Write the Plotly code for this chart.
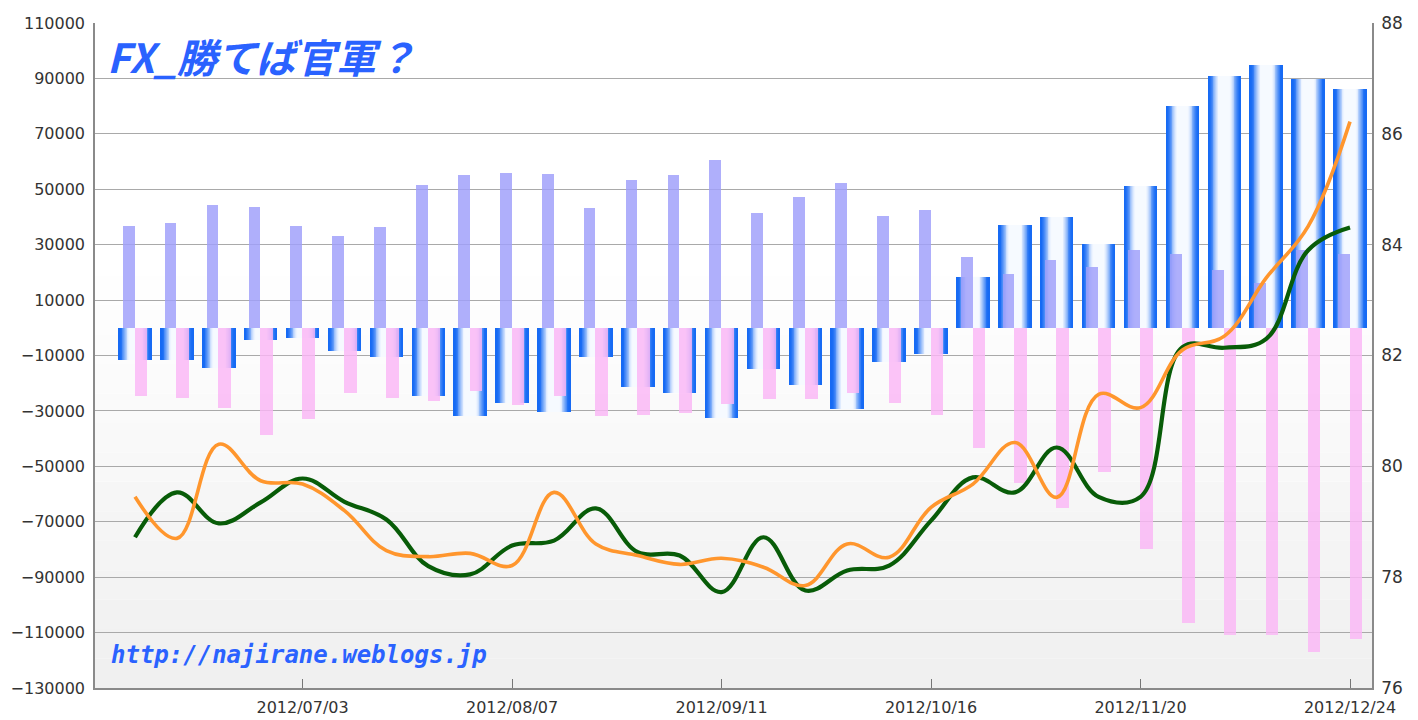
import plotly.graph_objects as go

# ---------------- data ----------------
dates = ["2012/06/05", "2012/06/12", "2012/06/19", "2012/06/26", "2012/07/03",
         "2012/07/10", "2012/07/17", "2012/07/24", "2012/07/31", "2012/08/07",
         "2012/08/14", "2012/08/21", "2012/08/28", "2012/09/04", "2012/09/11",
         "2012/09/18", "2012/09/25", "2012/10/02", "2012/10/09", "2012/10/16",
         "2012/10/23", "2012/10/30", "2012/11/06", "2012/11/13", "2012/11/20",
         "2012/11/27", "2012/12/04", "2012/12/11", "2012/12/18", "2012/12/24"]

tick_labels = ["2012/07/03", "2012/08/07", "2012/09/11", "2012/10/16",
               "2012/11/20", "2012/12/24"]

net_pos = [-11600, -11600, -14500, -4300, -3800, -8200, -10600, -24600, -32000, -27000,
           -30400, -10600, -21400, -23600, -32700, -15000, -20800, -29200, -12200, -9600,
           18200, 37100, 40000, 30300, 51300, 80000, 90700, 94900, 89800, 86200]

long_pos = [36900, 38000, 44300, 43700, 36900, 33000, 36400, 51600, 55000, 55700,
            55600, 43200, 53400, 55200, 60600, 41400, 47100, 52200, 40200, 42600,
            25600, 19500, 24600, 21800, 28000, 26800, 20700, 16100, 28200, 26800]

short_pos = [-24600, -25200, -29000, -38800, -32800, -23400, -25200, -26400, -22800, -28000,
             -24600, -31800, -31500, -30600, -27600, -25800, -25800, -23400, -27300, -31500,
             -43500, -56100, -65100, -51900, -79900, -106500, -110700, -110700, -117100, -112300]

green_line = [78.72, 79.53, 78.97, 79.35, 79.78, 79.36, 79.04, 78.20, 78.05, 78.57,
              78.66, 79.24, 78.45, 78.39, 77.73, 78.72, 77.76, 78.12, 78.21, 79.02,
              79.80, 79.53, 80.34, 79.45, 79.45, 82.15, 82.14, 82.30, 83.90, 84.31]

orange_line = [79.45, 78.70, 80.40, 79.74, 79.68, 79.20, 78.48, 78.37, 78.43, 78.21,
               79.53, 78.60, 78.39, 78.23, 78.34, 78.18, 77.85, 78.60, 78.36, 79.26,
               79.68, 80.43, 79.44, 81.30, 81.06, 82.10, 82.35, 83.40, 84.33, 86.22]

# ---------------- figure ----------------
fig = go.Figure()

# blue "cylinder" bars: overlapping centred layers, lighter toward the middle
BLUE = (22, 106, 244)
WHITE = (246, 250, 255)
full_w = 0.80
n_layers = 20


def whiteness(d):
    x = (0.37 - d) / 0.25
    x = max(0.0, min(1.0, x))
    return 3 * x * x - 2 * x * x * x


for k in range(n_layers):
    half = full_w / 2 * (1 - k / n_layers)
    inner = full_w / 2 * (1 - (k + 1) / n_layers)
    w = whiteness((half + inner) / 2)
    col = tuple(int(round(BLUE[i] + w * (WHITE[i] - BLUE[i]))) for i in range(3))
    fig.add_trace(go.Bar(
        x=dates, y=net_pos, width=2 * half, offset=-half,
        marker=dict(color="rgb(%d,%d,%d)" % col, line=dict(width=0)),
        hoverinfo="skip", showlegend=False, yaxis="y"))

fig.add_trace(go.Bar(
    x=dates, y=long_pos, width=0.28, offset=-0.29,
    marker=dict(color="rgba(160,160,250,0.84)", line=dict(width=0)),
    hoverinfo="skip", showlegend=False, yaxis="y"))

fig.add_trace(go.Bar(
    x=dates, y=short_pos, width=0.30, offset=-0.01,
    marker=dict(color="rgba(250,182,245,0.82)", line=dict(width=0)),
    hoverinfo="skip", showlegend=False, yaxis="y"))

fig.add_trace(go.Scatter(
    x=dates, y=green_line, mode="lines", yaxis="y2",
    line=dict(color="rgb(8,92,8)", width=4.2, shape="spline", smoothing=1.1),
    hoverinfo="skip", showlegend=False))

fig.add_trace(go.Scatter(
    x=dates, y=orange_line, mode="lines", yaxis="y2",
    line=dict(color="rgb(255,150,45)", width=3.6, shape="spline", smoothing=1.1),
    hoverinfo="skip", showlegend=False))

# subtle vertical background gradient (white at top, light grey at bottom)
shapes = []
n_bands = 14
for b in range(n_bands):
    y0 = 0.62 * b / n_bands
    y1 = 0.62 * (b + 1) / n_bands
    g = int(round(239 + (255 - 239) * (b + 0.5) / n_bands))
    shapes.append(dict(type="rect", xref="paper", yref="paper", x0=0, x1=1,
                       y0=y0, y1=y1, fillcolor="rgb(%d,%d,%d)" % (g, g, g),
                       line=dict(width=0), layer="below"))

ytick_font = dict(family="DejaVu Sans", size=16, color="#333333")
y2tick_font = dict(family="DejaVu Sans", size=17, color="#333333")
xtick_font = dict(family="DejaVu Sans", size=16, color="#333333")

# the page body adds an 8px margin, so the figure is 8px smaller on each axis
fig.update_layout(
    width=1410, height=712,
    margin=dict(l=87, r=46, t=15, b=32, pad=0, autoexpand=False),
    paper_bgcolor="white", plot_bgcolor="white",
    barmode="overlay", bargap=0,
    showlegend=False,
    shapes=shapes,
    xaxis=dict(type="category", range=[-0.955, 29.525], automargin=False,
               tickmode="array", tickvals=tick_labels, ticktext=tick_labels,
               ticks="inside", ticklen=9, tickwidth=1, tickcolor="#777777",
               showline=True, linecolor="#8a8a8a", linewidth=1.5,
               showgrid=False, tickfont=xtick_font, ticklabelstandoff=4),
    yaxis=dict(range=[-130000, 110000], tick0=10000, dtick=20000, tickformat="d",
               automargin=False,
               showgrid=True, gridcolor="#a9a9a9", gridwidth=1.3,
               zeroline=False, showline=True, linecolor="#8a8a8a", linewidth=1.5,
               ticks="", tickfont=ytick_font, ticklabelstandoff=5),
    yaxis2=dict(range=[76, 88], dtick=2, overlaying="y", side="right", automargin=False,
                showgrid=False, zeroline=False, showline=True, linecolor="#8a8a8a",
                linewidth=1.5, ticks="", tickfont=y2tick_font, ticklabelstandoff=4),
    annotations=[
        dict(text="<b><i>FX_勝てば官軍？</i></b>", xref="paper", yref="paper",
             x=0.008, y=0.951, xanchor="left", yanchor="middle", showarrow=False,
             font=dict(family="Noto Sans CJK JP", size=40, color="#2a62ff")),
        dict(text="<b><i>http://najirane.weblogs.jp</i></b>", xref="paper", yref="paper",
             x=0.011, y=0.05, xanchor="left", yanchor="middle", showarrow=False,
             font=dict(family="DejaVu Sans Mono", size=24, color="#2a62ff")),
    ],
)

fig.write_html("out.html")
